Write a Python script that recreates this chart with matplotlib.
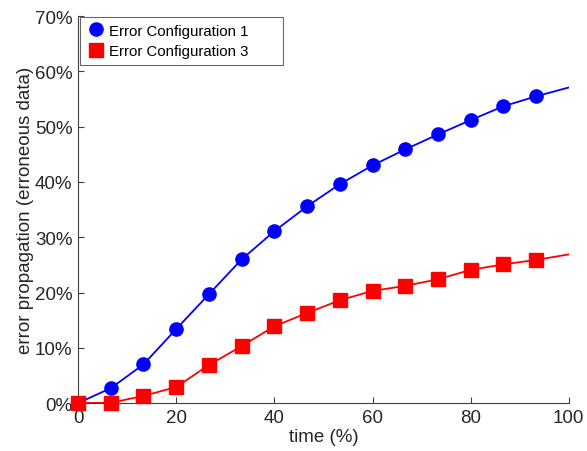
import matplotlib.pyplot as plt
import numpy as np

plt.rcParams['font.family'] = ['Liberation Sans', 'DejaVu Sans']

# time positions of the markers (%), plus the end of the run
time = [0, 6.67, 13.33, 20, 26.67, 33.33, 40, 46.67, 53.33, 60,
        66.67, 73.33, 80, 86.67, 93.33, 100]
cfg1 = [0, 2.7, 7.0, 13.4, 19.7, 26.0, 31.1, 35.6, 39.6, 43.0,
        45.9, 48.6, 51.2, 53.7, 55.5, 57.1]
cfg3 = [0, 0.05, 1.3, 2.9, 6.9, 10.3, 13.9, 16.3, 18.6, 20.3,
        21.2, 22.4, 24.1, 25.1, 25.9, 26.9]
labels = ['Error Configuration 1', 'Error Configuration 3']

fig = plt.figure(figsize=(5.87, 4.52), dpi=100)
ax = fig.add_axes([0.133, 0.106, 0.836, 0.856])

t = np.array(time)
ax.plot(t, cfg1, color='#0000ff', lw=1.3)
ax.plot(t, cfg3, color='#ff0000', lw=1.3)
ax.plot(t[:-1], cfg1[:-1], 'o', color='#0000ff', ms=9.5, label=labels[0],
        clip_on=False, zorder=3)
ax.plot(t[:-1], cfg3[:-1], 's', color='#ff0000', ms=10, label=labels[1],
        clip_on=False, zorder=4)

ax.set_xlim(0, 100)
ax.set_ylim(0, 70)
ax.set_xticks([0, 20, 40, 60, 80, 100])
ax.set_yticks(range(0, 71, 10))
ax.set_yticklabels([f'{v}%' for v in range(0, 71, 10)])

for s in ['top', 'right']:
    ax.spines[s].set_visible(False)
for s in ['left', 'bottom']:
    ax.spines[s].set_color('#404040')
    ax.spines[s].set_linewidth(0.8)
ax.tick_params(direction='in', length=4, width=0.8, colors='#404040',
               labelsize=13.5, labelcolor='#262626', pad=4)

ax.set_xlabel('time (%)', fontsize=13.5, color='#262626', labelpad=2)
ax.set_ylabel('error propagation (erroneous data)', fontsize=13.5,
              color='#262626', labelpad=1)

leg = ax.legend(loc='upper left', bbox_to_anchor=(0.004, 0.0, 0.413, 0.998),
                mode='expand', fontsize=10.8, frameon=True, fancybox=False,
                edgecolor='#404040', borderpad=0.45, handletextpad=0.3,
                handlelength=1.2, borderaxespad=0, labelspacing=0.45)
leg.get_frame().set_linewidth(0.8)

fig.savefig('out.png', dpi=100)
